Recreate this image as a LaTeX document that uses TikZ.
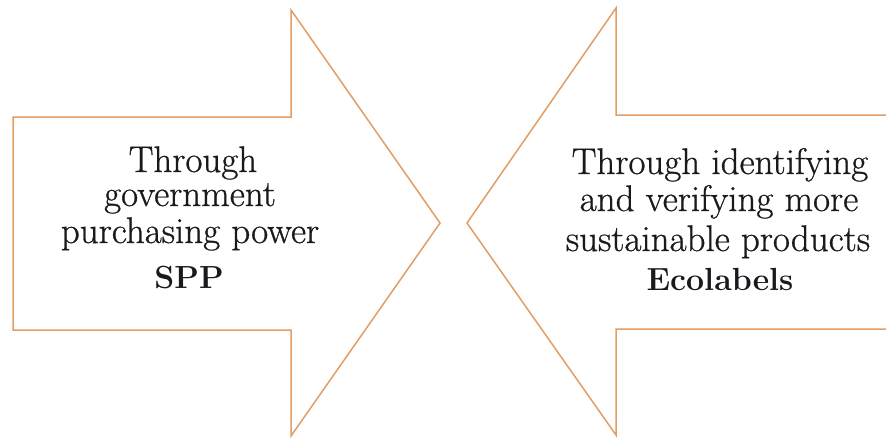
\documentclass[tikz,border=0pt]{standalone}
\usepackage{fontspec}
\setmainfont{Latin Modern Roman}
\newfontfamily\heavyserif{Latin Modern Roman}[FakeBold=0.7]
\definecolor{arrowline}{RGB}{226,158,100}
\definecolor{txt}{RGB}{25,25,30}
\begin{document}
\begin{tikzpicture}[x=1pt,y=-1pt,
  blockarrow/.style={draw=arrowline,line width=1.5pt,line join=miter,fill=white},
  linetext/.style={anchor=base,inner sep=0pt,text=txt,font=\heavyserif\fontsize{37}{42}\selectfont},
  boldtext/.style={anchor=base,inner sep=0pt,text=txt,font=\bfseries\fontsize{32}{40}\selectfont}]
\useasboundingbox (0,0) rectangle (886,440);
\fill[white] (0,0) rectangle (886,440);
% left arrow (pointing right)
\draw[blockarrow] (13,117) -- (291,117) -- (291,10) -- (440,223) -- (291,436) -- (291,330) -- (13,330) -- cycle;
% right arrow (pointing left), cropped at the right edge
\draw[blockarrow] (887,115) -- (616,115) -- (616,8) -- (467,223) -- (616,435) -- (616,329) -- (887,329);
% left text
\node[linetext] (l1) at (193,172) {Through};
\node[linetext] (l2) at (190,206) {government};
\node[linetext] (l3) at (190,243) {purchasing power};
\node[boldtext] (l4) at (189,288) {SPP};
% right text
\node[linetext] (r1) at (720,174) {Through identifying};
\node[linetext] (r2) at (719,211) {and verifying more};
\node[linetext] (r3) at (718,251) {sustainable products};
\node[boldtext] (r4) at (720,290) {Ecolabels};
\end{tikzpicture}
\end{document}
